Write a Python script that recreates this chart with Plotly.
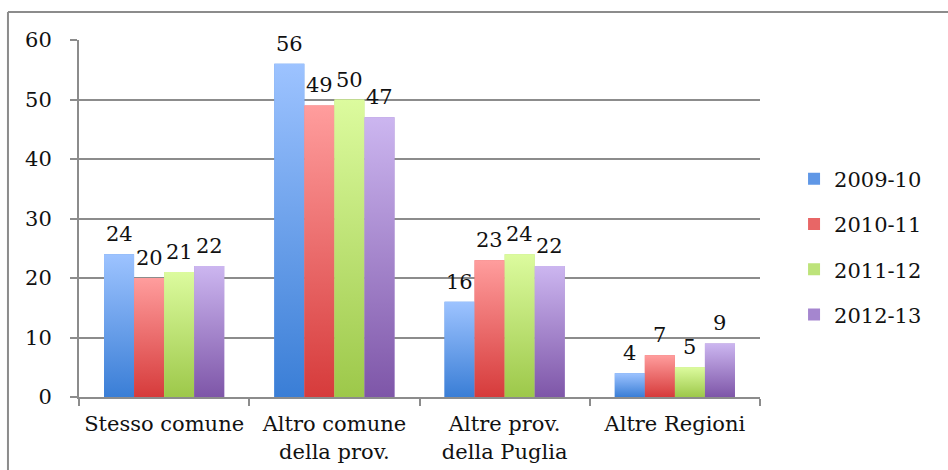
import plotly.graph_objects as go

# Provenance of students, share (%) by academic year
categories = ["Stesso comune", "Altro comune<br>della prov.", "Altre prov.<br>della Puglia", "Altre Regioni"]
years = ["2009-10", "2010-11", "2011-12", "2012-13"]
v_2009_10 = [24, 56, 16, 4]
v_2010_11 = [20, 49, 23, 7]
v_2011_12 = [21, 50, 24, 5]
v_2012_13 = [22, 47, 22, 9]
series = [v_2009_10, v_2010_11, v_2011_12, v_2012_13]
y_ticks = [0, 10, 20, 30, 40, 50, 60]

# light-at-top / dark-at-bottom bar shading
top_colors = ["#9dc3ff", "#ff9d9d", "#dcfb9e", "#ccb6f0"]
bottom_colors = ["#3a7ed6", "#d63b3b", "#9dc84a", "#7e56a8"]
mid_colors = ["#5f97e6", "#e86666", "#bde37a", "#a586cf"]

FONT = "DejaVu Serif"
FS = 21
GRID = "#8c8c8c"
BARGAP = 0.294
n_series = len(series)
bar_w = (1 - BARGAP) / n_series

fig = go.Figure()

for i, (name, vals) in enumerate(zip(years, series)):
    fig.add_trace(go.Bar(
        x=categories, y=vals, name=name,
        marker=dict(color=mid_colors[i], line=dict(width=0)),
        legendgroup=name,
    ))

# gradient fill drawn over each bar, same geometry as the grouped bars
annotations = []
for i, vals in enumerate(series):
    for j, v in enumerate(vals):
        c = j + (i - (n_series - 1) / 2) * bar_w
        x0, x1 = c - bar_w / 2, c + bar_w / 2
        fig.add_trace(go.Scatter(
            x=[x0, x1, x1, x0, x0], y=[0, 0, v, v, 0],
            xaxis="x2", mode="lines", fill="toself",
            fillgradient=dict(type="vertical",
                              colorscale=[[0, bottom_colors[i]], [1, top_colors[i]]],
                              start=0, stop=v),
            line=dict(width=0), showlegend=False, hoverinfo="skip",
        ))
        annotations.append(dict(
            x=c, xref="x2", y=v, yref="y", text=str(v), showarrow=False,
            yanchor="bottom", yshift=6, font=dict(family=FONT, size=FS, color="#111111"),
        ))

fig.update_layout(
    width=948, height=470,
    margin=dict(l=79, r=188, t=40, b=73, autoexpand=False),
    paper_bgcolor="white", plot_bgcolor="white",
    barmode="group", bargap=BARGAP, bargroupgap=0,
    font=dict(family=FONT, size=FS, color="#111111"),
    xaxis=dict(
        type="category", range=[-0.5, 3.5], tickson="boundaries",
        ticks="outside", ticklen=7, tickwidth=2, tickcolor=GRID,
        showline=True, linecolor=GRID, linewidth=2, showgrid=False,
        automargin=False,
        ticklabelstandoff=7, tickfont=dict(family=FONT, size=FS, color="#111111"),
    ),
    xaxis2=dict(overlaying="x", range=[-0.5, 3.5], visible=False),
    yaxis=dict(
        range=[0, 60], tickvals=y_ticks, ticks="outside", ticklen=7,
        tickwidth=2, tickcolor=GRID, showline=True, linecolor=GRID, linewidth=2,
        showgrid=True, gridcolor=GRID, gridwidth=2, zeroline=False,
        automargin=False,
        ticklabelstandoff=14, tickfont=dict(family=FONT, size=FS, color="#111111"),
    ),
    legend=dict(
        x=1.05, y=0.42, xanchor="left", yanchor="middle",
        font=dict(family=FONT, size=FS, color="#111111"),
        traceorder="grouped", tracegroupgap=15, itemwidth=30,
    ),
    annotations=annotations,
    shapes=[
        dict(type="line", xref="paper", yref="paper", x0=-0.1043, x1=1.5,
             y0=1.0784, y1=1.0784, line=dict(color=GRID, width=2)),
        dict(type="line", xref="paper", yref="paper", x0=-0.1043, x1=-0.1043,
             y0=-0.5, y1=1.0784, line=dict(color=GRID, width=2)),
    ],
)

fig.write_html("out.html")
